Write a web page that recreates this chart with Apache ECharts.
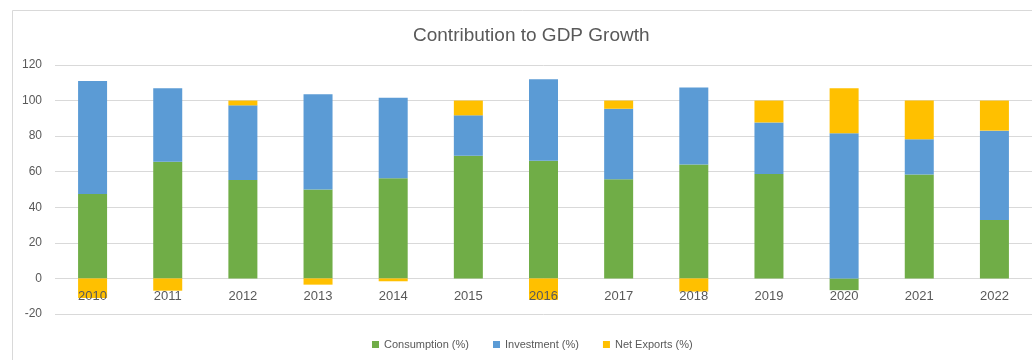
<!DOCTYPE html>
<html>
<head>
<meta charset="utf-8">
<script src="https://cdn.jsdelivr.net/npm/echarts@6/dist/echarts.min.js"></script>
<style>
  html, body { margin: 0; padding: 0; background: #ffffff; }
  #chart { width: 1032px; height: 360px; }
</style>
</head>
<body>
<div id="chart"></div>
<script>
// Years on the category axis
const years = ['2010', '2011', '2012', '2013', '2014', '2015', '2016', '2017', '2018', '2019', '2020', '2021', '2022'];

// Contribution of each component to GDP growth, in percent
const consumption = [47.5, 65.6, 55.3, 50.0, 56.3, 69.0, 66.2, 55.7, 64.1, 58.7, -6.6, 58.5, 32.8];
const investment  = [63.5, 41.3, 42.0, 53.5, 45.3, 22.7, 45.8, 39.7, 43.3, 29.0, 81.6, 19.7, 50.3];
const netExports  = [-11.0, -6.9, 2.7, -3.5, -1.6, 8.3, -12.0, 4.6, -7.4, 12.3, 25.3, 21.8, 16.9];

// Value axis ticks
const yMin = -20, yMax = 120, yStep = 20;

const textGray = '#595959';
const font = '"Liberation Sans", "Open Sans", sans-serif';

const gridTop = 65, gridBottom = 46, chartHeight = 360;
const plotHeight = chartHeight - gridTop - gridBottom;
// Pixel distance from the bottom edge of the plot up to the zero line,
// so the year labels sit just under zero.
const zeroLift = plotHeight * (0 - yMin) / (yMax - yMin);

const chart = echarts.init(document.getElementById('chart'), null, { renderer: 'canvas' });

function barSeries(name, data, color) {
  return {
    name: name,
    type: 'bar',
    stack: 'total',
    data: data,
    barWidth: 29,
    itemStyle: { color: color },
    emphasis: { disabled: true }
  };
}

chart.setOption({
  animation: false,
  backgroundColor: '#ffffff',
  textStyle: { fontFamily: font },
  title: {
    text: 'Contribution to GDP Growth',
    left: 408,
    top: 21,
    textStyle: { color: textGray, fontSize: 19, fontWeight: 'normal', fontFamily: font }
  },
  legend: {
    data: ['Consumption (%)', 'Investment (%)', 'Net Exports (%)'],
    left: 367,
    top: 334,
    itemWidth: 7,
    itemHeight: 7,
    itemGap: 24,
    icon: 'rect',
    textStyle: { color: textGray, fontSize: 11, fontFamily: font }
  },
  graphic: [{
    type: 'rect',
    shape: { x: 12.5, y: 10.5, width: 1040, height: 400 },
    style: { fill: 'none', stroke: '#d9d9d9', lineWidth: 1 },
    silent: true,
    z: -1
  }],
  grid: { left: 55, right: -2, top: gridTop, bottom: gridBottom },
  xAxis: {
    type: 'category',
    data: years,
    z: 10,
    offset: -zeroLift,
    axisLine: { show: false, onZero: false },
    axisTick: { show: false },
    axisLabel: { color: textGray, fontSize: 13, margin: 11, fontFamily: font }
  },
  yAxis: {
    type: 'value',
    min: yMin,
    max: yMax,
    interval: yStep,
    axisLine: { show: false },
    axisTick: { show: false },
    axisLabel: { color: textGray, fontSize: 12, margin: 13, fontFamily: font },
    splitLine: { lineStyle: { color: '#d9d9d9', width: 1 } }
  },
  series: [
    barSeries('Consumption (%)', consumption, '#70AD47'),
    barSeries('Investment (%)', investment, '#5B9BD5'),
    barSeries('Net Exports (%)', netExports, '#FFC000')
  ]
});
</script>
</body>
</html>
